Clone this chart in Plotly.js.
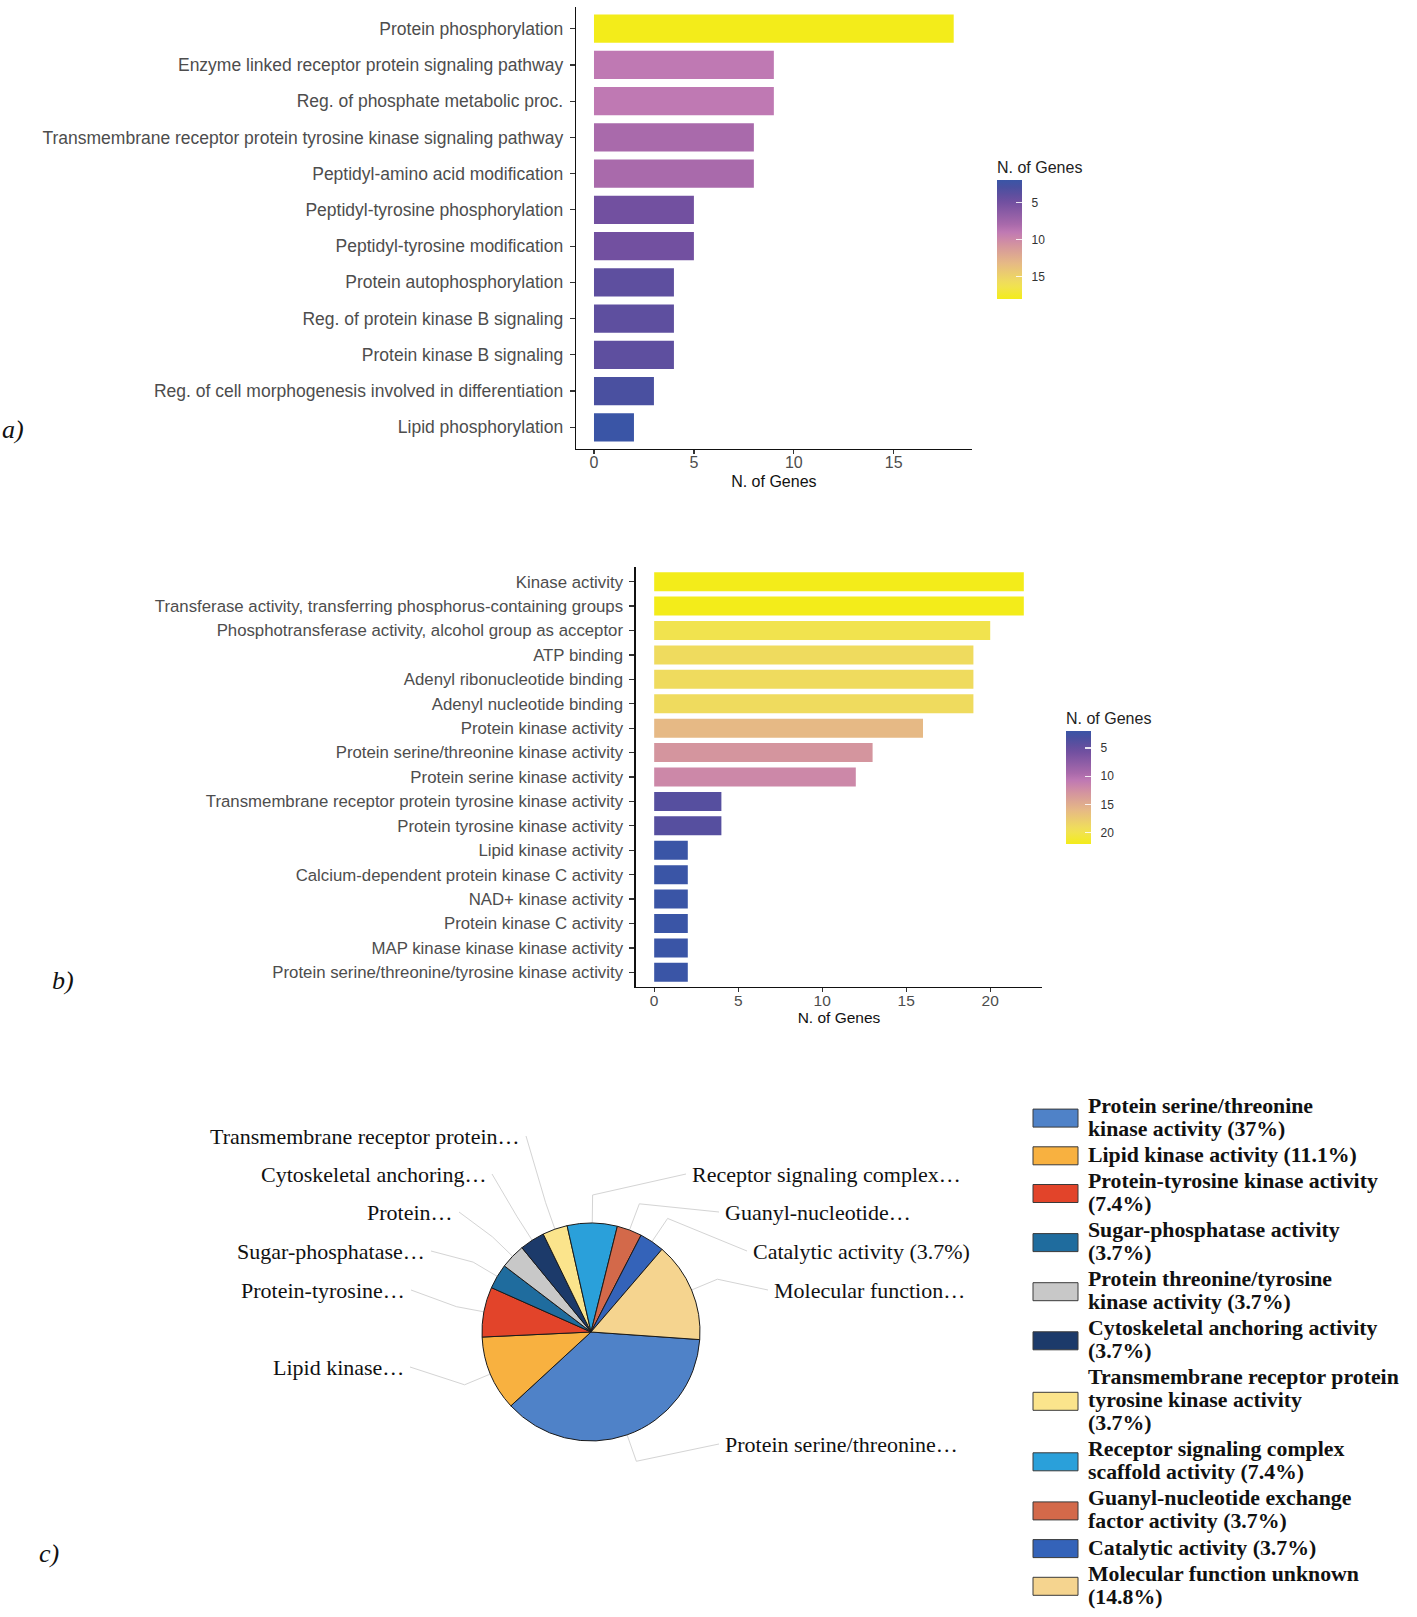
<!DOCTYPE html>
<html>
<head>
<meta charset="utf-8">
<script src="https://cdn.plot.ly/plotly-3.0.1.min.js"></script>
<style>html,body{margin:0;padding:0;background:#fff;}</style>
</head>
<body>
<div id="chart" style="width:1417px;height:1617px;"></div>
<script>
// ---------- DATA ----------
const catsA = ['Protein phosphorylation','Enzyme linked receptor protein signaling pathway','Reg. of phosphate metabolic proc.','Transmembrane receptor protein tyrosine kinase signaling pathway','Peptidyl-amino acid modification','Peptidyl-tyrosine phosphorylation','Peptidyl-tyrosine modification','Protein autophosphorylation','Reg. of protein kinase B signaling','Protein kinase B signaling','Reg. of cell morphogenesis involved in differentiation','Lipid phosphorylation'];
const genesA = [18,9,9,8,8,5,5,4,4,4,3,2];

const catsB = ['Kinase activity','Transferase activity, transferring phosphorus-containing groups','Phosphotransferase activity, alcohol group as acceptor','ATP binding','Adenyl ribonucleotide binding','Adenyl nucleotide binding','Protein kinase activity','Protein serine/threonine kinase activity','Protein serine kinase activity','Transmembrane receptor protein tyrosine kinase activity','Protein tyrosine kinase activity','Lipid kinase activity','Calcium-dependent protein kinase C activity','NAD+ kinase activity','Protein kinase C activity','MAP kinase kinase kinase activity','Protein serine/threonine/tyrosine kinase activity'];
const genesB = [22,22,20,19,19,19,16,13,12,4,4,2,2,2,2,2,2];

const ticksA = [0,5,10,15];
const ticksB = [0,5,10,15,20];
const cbTicksA = [5,10,15];
const cbTicksB = [5,10,15,20];

const pieLabels = ['Protein serine/threonine kinase activity','Lipid kinase activity','Protein-tyrosine kinase activity','Sugar-phosphatase activity','Protein threonine/tyrosine kinase activity','Cytoskeletal anchoring activity','Transmembrane receptor protein tyrosine kinase activity','Receptor signaling complex scaffold activity','Guanyl-nucleotide exchange factor activity','Catalytic activity','Molecular function unknown'];
const pieCounts = [10,3,2,1,1,1,1,2,1,1,4];
const pieShort = ['Protein serine/threonine…','Lipid kinase…','Protein-tyrosine…','Sugar-phosphatase…','Protein…','Cytoskeletal anchoring…','Transmembrane receptor protein…','Receptor signaling complex…','Guanyl-nucleotide…','Catalytic activity ({p})','Molecular function…'];
const legendLines = [
  ['Protein serine/threonine','kinase activity ({p})'],
  ['Lipid kinase activity ({p})'],
  ['Protein-tyrosine kinase activity','({p})'],
  ['Sugar-phosphatase activity','({p})'],
  ['Protein threonine/tyrosine','kinase activity ({p})'],
  ['Cytoskeletal anchoring activity','({p})'],
  ['Transmembrane receptor protein','tyrosine kinase activity','({p})'],
  ['Receptor signaling complex','scaffold activity ({p})'],
  ['Guanyl-nucleotide exchange','factor activity ({p})'],
  ['Catalytic activity ({p})'],
  ['Molecular function unknown','({p})']
];
const pieColors = ['#4f82c8','#f8b140','#e2442a','#1f6c9e','#c8c8c8','#1c3a6a','#fbe48c','#2aa0da','#d3694a','#3463b9','#f5d48f'];

// ---------- STYLE / LAYOUT CONSTANTS ----------
const W = 1417, H = 1617;
const fx = px => px / W;
const fy = py => 1 - py / H;
const sans = '"Liberation Sans", Arial, Helvetica, sans-serif';
const serif = '"Liberation Serif", "Times New Roman", serif';
// colour ramp (yellow = high, blue = low; colours are mapped on negated counts so the bar shows low at top)
const gradient = [[0,'#f3ec1a'],[0.1,'#f1e34e'],[0.15,'#efdb5e'],[0.3,'#e6b985'],[0.45,'#d4959e'],[0.5,'#cc88a8'],
                  [0.5625,'#bf79b3'],[0.625,'#a96aab'],[0.8125,'#7250a0'],[0.875,'#5e4f9f'],[0.9375,'#4a50a0'],[1,'#3a55a6']];

const pieCx = 591, pieCy = 1332, pieR = 109, pieRot = 94;
// label placement for each slice: [x, y, anchor]
const pieLabelPos = [[723,1444,'left'],[406,1367,'right'],[407,1290,'right'],[427,1251,'right'],[455,1212,'right'],[488,1174,'right'],[522,1136,'right'],[690,1174,'left'],[723,1212,'left'],[751,1251,'left'],[772,1290,'left']];

const total = pieCounts.reduce((a,b)=>a+b,0);
const pct = v => String(Number((v/total*100).toFixed(1))) + '%';
const NB = '\u00a0\u00a0';

function colorbar(x, yTop, lenPx, ticks) {
  return {
    x: fx(x), xanchor: 'left', xpad: 0,
    y: fy(yTop), yanchor: 'top', ypad: 0,
    len: lenPx, lenmode: 'pixels', thickness: 25,
    outlinewidth: 0,
    ticks: 'inside', ticklen: 6, tickcolor: 'rgba(255,255,255,0.85)', tickwidth: 1.2,
    tickvals: ticks.map(v => -v), ticktext: ticks.map(v => NB + v),
    tickfont: {family: sans, size: 12, color: '#333'},
    title: {text: 'N. of Genes', side: 'top', font: {family: sans, size: 16, color: '#222'}}
  };
}

const minA = Math.min(...genesA), maxA = Math.max(...genesA);
const minB = Math.min(...genesB), maxB = Math.max(...genesB);

const traceA = {
  type: 'bar', orientation: 'h', x: genesA, y: catsA, xaxis: 'x', yaxis: 'y',
  width: 0.78,
  marker: {color: genesA.map(v => -v), cmin: -maxA, cmax: -minA, colorscale: gradient,
           showscale: true, colorbar: colorbar(997, 158, 141, cbTicksA)},
  hoverinfo: 'x+y'
};
const traceB = {
  type: 'bar', orientation: 'h', x: genesB, y: catsB, xaxis: 'x2', yaxis: 'y2',
  width: 0.78,
  marker: {color: genesB.map(v => -v), cmin: -maxB, cmax: -minB, colorscale: gradient,
           showscale: true, colorbar: colorbar(1066, 709, 135, cbTicksB)},
  hoverinfo: 'x+y'
};
const pieTrace = {
  type: 'pie', values: pieCounts, labels: pieLabels, sort: false, direction: 'clockwise',
  rotation: pieRot, textinfo: 'none', showlegend: false,
  marker: {colors: pieColors, line: {color: '#1a1a1a', width: 1}},
  domain: {x: [fx(pieCx - pieR), fx(pieCx + pieR)], y: [fy(pieCy + pieR), fy(pieCy - pieR)]}
};

function catAxis(cats, domain, fsize) {
  return {
    domain: domain, type: 'category', categoryarray: cats, categoryorder: 'array',
    range: [cats.length - 1 + 0.6, -0.6], showline: true, linecolor: '#111', linewidth: 1.3,
    ticks: 'outside', ticklen: 5, tickcolor: '#333', tickwidth: 1.2, ticklabelstandoff: 3,
    tickfont: {family: sans, size: fsize, color: '#4d4d4d'}, showgrid: false, zeroline: false,
    automargin: false, fixedrange: true
  };
}
function valAxis(max, ticks, domain, anchor, fsize, standoff, titleStandoff) {
  return {
    domain: domain, anchor: anchor, range: [-max*0.05, max*1.05], tickvals: ticks,
    showline: true, linecolor: '#111', linewidth: 1.3,
    ticks: 'outside', ticklen: 4, tickcolor: '#333', tickwidth: 1.2, ticklabelstandoff: standoff,
    tickfont: {family: sans, size: fsize, color: '#4d4d4d'}, showgrid: false, zeroline: false,
    title: {text: 'N. of Genes', font: {family: sans, size: fsize, color: '#111'}, standoff: titleStandoff},
    automargin: false, fixedrange: true
  };
}

// ---------- annotations & shapes ----------
const annotations = [];
const shapes = [];

annotations.push({xref:'paper', yref:'paper', x: fx(0), y: fy(430), xanchor:'left', yanchor:'middle', showarrow:false,
  text:'<i>a)</i>', font:{family: serif, size: 26, color:'#111'}});
annotations.push({xref:'paper', yref:'paper', x: fx(50), y: fy(980), xanchor:'left', yanchor:'middle', showarrow:false,
  text:'<i>b)</i>', font:{family: serif, size: 26, color:'#111'}});
annotations.push({xref:'paper', yref:'paper', x: fx(37), y: fy(1553), xanchor:'left', yanchor:'middle', showarrow:false,
  text:'<i>c)</i>', font:{family: serif, size: 26, color:'#111'}});

// pie labels + elbow leader lines
let cum = 0;
pieCounts.forEach((v, i) => {
  const mid = (pieRot + (cum + v/2) / total * 360) * Math.PI / 180;
  cum += v;
  const rx = pieCx + pieR * Math.sin(mid), ry = pieCy - pieR * Math.cos(mid);
  const bx = pieCx + (pieR + 28) * Math.sin(mid), by = pieCy - (pieR + 28) * Math.cos(mid);
  const [lx, ly, anc] = pieLabelPos[i];
  const ex = anc === 'left' ? lx - 4 : lx + 4;
  shapes.push({type:'path', xref:'paper', yref:'paper',
    path: 'M' + fx(rx) + ',' + fy(ry) + ' L' + fx(bx) + ',' + fy(by) + ' L' + fx(ex) + ',' + fy(ly),
    line:{color:'#d4d4d4', width:1}, layer:'below'});
  annotations.push({xref:'paper', yref:'paper', x: fx(lx), y: fy(ly), xanchor: anc, yanchor:'middle',
    showarrow:false, text: pieShort[i].replace('{p}', pct(v)), font:{family: serif, size: 22, color:'#111'}});
});

// custom legend
let cursor = 1105.7;
legendLines.forEach((lines, i) => {
  const ys = lines.map((_, k) => cursor + k * 22.8);
  lines.forEach((t, k) => {
    annotations.push({xref:'paper', yref:'paper', x: fx(1086), y: fy(ys[k]), xanchor:'left', yanchor:'middle',
      showarrow:false, text: '<b>' + t.replace('{p}', pct(pieCounts[i])) + '</b>',
      font:{family: serif, size: 21.8, color:'#111'}});
  });
  const cy = ys.reduce((a,b)=>a+b,0) / ys.length + 1;
  shapes.push({type:'rect', xref:'paper', yref:'paper', x0: fx(1033), x1: fx(1078), y0: fy(cy - 9), y1: fy(cy + 9),
    fillcolor: pieColors[i], line:{color:'#3a3a3a', width:1}});
  cursor = ys[ys.length - 1] + 26.3;
});

const layout = {
  width: W, height: H, margin: {l:0, r:0, t:0, b:0},
  paper_bgcolor: '#fff', plot_bgcolor: '#fff', showlegend: false,
  font: {family: sans},
  xaxis: valAxis(maxA, ticksA, [fx(576), fx(971.7)], 'y', 16, -6, 6),
  yaxis: Object.assign(catAxis(catsA, [fy(449), fy(7)], 17.5), {anchor: 'x'}),
  xaxis2: valAxis(maxB, ticksB, [fx(635.7), fx(1042.3)], 'y2', 15.5, -5, 3),
  yaxis2: Object.assign(catAxis(catsB, [fy(987), fy(567)], 16.8), {anchor: 'x2'}),
  annotations: annotations,
  shapes: shapes
};

Plotly.newPlot('chart', [traceA, traceB, pieTrace], layout, {displayModeBar: false, staticPlot: true});
</script>
</body>
</html>
